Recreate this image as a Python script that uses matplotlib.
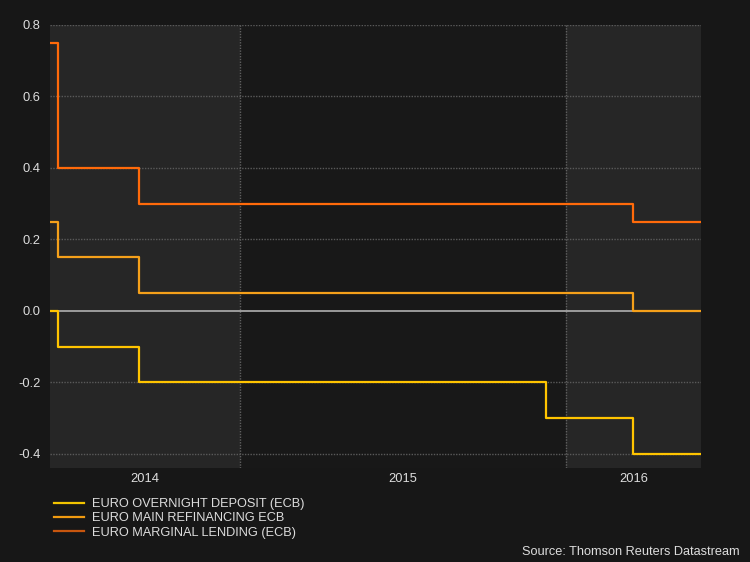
import matplotlib
matplotlib.use("Agg")
import matplotlib.pyplot as plt
import matplotlib.dates as mdates
import numpy as np
import pandas as pd

# ---- data ----
dates = ["2014-06-02", "2014-06-11", "2014-09-10", "2015-12-09", "2016-03-16", "2016-05-31"]
deposit = [0.00, -0.10, -0.20, -0.30, -0.40, -0.40]
main_refi = [0.25, 0.15, 0.05, 0.05, 0.00, 0.00]
marginal = [0.75, 0.40, 0.30, 0.30, 0.25, 0.25]
labels = ["EURO OVERNIGHT DEPOSIT (ECB)", "EURO MAIN REFINANCING ECB", "EURO MARGINAL LENDING (ECB)"]
year_labels = ["2014", "2015", "2016"]
y_ticks = [-0.4, -0.2, 0.0, 0.2, 0.4, 0.6, 0.8]
x_start, x_end = "2014-06-02", "2016-05-31"

colors = ["#ffc400", "#f5a01a", "#ff6a0a"]
legend_colors = ["#f2c400", "#f09a10", "#c8560e"]

plt.rcParams["font.family"] = ["Liberation Sans", "DejaVu Sans"]

W, H = 750, 562
fig = plt.figure(figsize=(7.5, 5.62), dpi=100, facecolor="#171717")
ax = fig.add_axes([50 / W, 1 - 467.5 / H, (701 - 50) / W, (467.5 - 25) / H])
ax.set_facecolor("#181818")

d = pd.to_datetime(dates)
xs, xe = pd.Timestamp(x_start), pd.Timestamp(x_end)

# shaded year bands
bounds = [xs] + [pd.Timestamp(f"{y}-01-01") for y in year_labels[1:]] + [xe]
for i in range(len(year_labels)):
    if i % 2 == 0:
        ax.axvspan(bounds[i], bounds[i + 1], color="#262626", lw=0, zorder=0)
for b in bounds[1:-1]:
    ax.axvline(b, color="#606060", lw=1, ls=(0, (1, 1)), zorder=1)

for yv in y_ticks:
    if yv == 0:
        ax.axhline(yv, color="#b0b0b0", lw=1.2, zorder=1)
    else:
        ax.axhline(yv, color="#5a5a5a", lw=1, ls=(0, (1, 1)), zorder=1)

series = [deposit, main_refi, marginal]
for s, c, lab in zip(series, colors, labels):
    ax.step(d, s, where="post", color=c, lw=1.6, label=lab, zorder=3)

ax.set_xlim(xs, xe)
ax.set_ylim(-0.438, 0.8)

mids = [bounds[i] + (bounds[i + 1] - bounds[i]) / 2 for i in range(len(year_labels))]
ax.set_xticks(mids)
ax.set_xticklabels(year_labels)
ax.set_yticks(y_ticks)
ax.set_yticklabels([f"{v:.1f}" for v in y_ticks])
ax.tick_params(axis="both", length=0, colors="#dddddd", labelsize=9.3)
ax.tick_params(axis="y", pad=7)
ax.tick_params(axis="x", pad=4)
for sp in ax.spines.values():
    sp.set_visible(False)

leg = fig.legend(loc="upper left", bbox_to_anchor=(54 / W, 1 - 498 / H), frameon=False,
                 fontsize=9.2, labelcolor="#dddddd", handlelength=2.35, handletextpad=0.62,
                 labelspacing=0.18, borderpad=0, borderaxespad=0)
for ln, c in zip(leg.get_lines(), legend_colors):
    ln.set_color(c)

fig.text(740 / W, 1 - 552 / H, "Source: Thomson Reuters Datastream", color="#dddddd",
         fontsize=9.2, ha="right", va="center")

fig.savefig("out.png", dpi=100, facecolor=fig.get_facecolor())
